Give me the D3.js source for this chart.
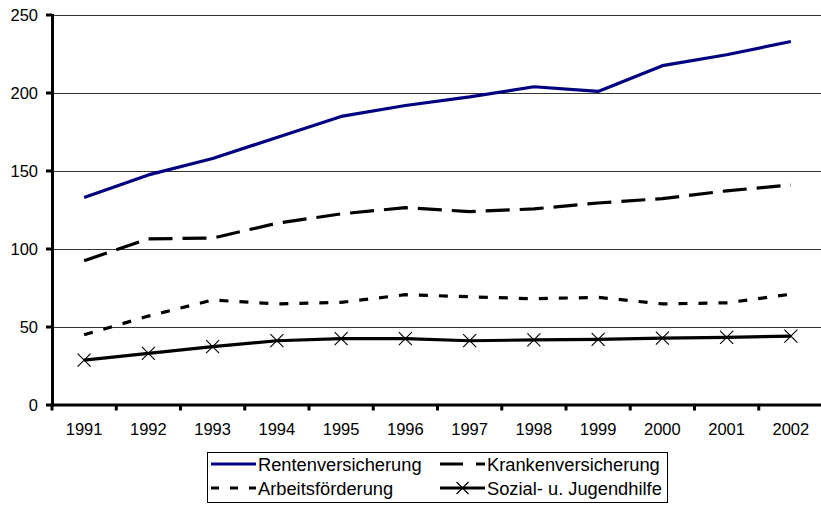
<!DOCTYPE html>
<html>
<head>
<meta charset="utf-8">
<script src="https://cdn.jsdelivr.net/npm/d3@7"></script>
<style>
  html, body { margin: 0; padding: 0; background: #fff; }
  svg { display: block; font-family: "Liberation Sans", Arial, sans-serif; }
</style>
</head>
<body>
<div id="chart"></div>
<script>
const years = ["1991","1992","1993","1994","1995","1996","1997","1998","1999","2000","2001","2002"];
const rentenversicherung = [133, 147.5, 158, 171.5, 185, 192, 197.5, 204, 201, 217.5, 224.5, 233];
const krankenversicherung = [92.5, 106.5, 107, 116.5, 122.5, 126.5, 124, 125.7, 129.5, 132.3, 137.3, 141];
const arbeitsfoerderung = [45, 57, 67.3, 64.8, 65.8, 70.7, 69.4, 68.1, 69, 64.8, 65.5, 71];
const sozialJugendhilfe = [28.8, 33.1, 37.4, 41.2, 42.6, 42.6, 41.2, 41.7, 42.1, 42.9, 43.3, 44.2];
const yTicks = [0, 50, 100, 150, 200, 250];
const seriesNames = ["Rentenversicherung", "Krankenversicherung", "Arbeitsförderung", "Sozial- u. Jugendhilfe"];

const W = 821, H = 507;
const svg = d3.select("#chart").append("svg").attr("width", W).attr("height", H);

const x = d3.scaleBand().domain(years).range([52, 823]).paddingInner(0).paddingOuter(0);
const y = d3.scaleLinear().domain([0, 250]).range([405, 15]);

// gridlines
svg.append("g").selectAll("line").data(yTicks.filter(d => d > 0)).join("line")
  .attr("x1", 52).attr("x2", W)
  .attr("y1", d => Math.round(y(d)) + 0.5).attr("y2", d => Math.round(y(d)) + 0.5)
  .attr("stroke", "#333").attr("stroke-width", 1);

const styles = [
  { data: rentenversicherung, color: "#000080", dash: null, legendDash: null, w: 3.2 },
  { data: krankenversicherung, color: "#000", dash: "24,10", legendDash: "23,13", w: 3.2 },
  { data: arbeitsfoerderung, color: "#000", dash: "9,11", legendDash: "8,11", w: 3.2 },
  { data: sozialJugendhilfe, color: "#000", dash: null, legendDash: null, w: 3.2, marker: true }
];

const line = d3.line().x((d, i) => x(years[i]) + x.bandwidth() / 2).y(d => y(d));

styles.forEach(s => {
  svg.append("path").attr("d", line(s.data))
    .attr("fill", "none").attr("stroke", s.color).attr("stroke-width", s.w)
    .attr("stroke-dasharray", s.dash).attr("stroke-linejoin", "round");
  if (s.marker) {
    svg.append("g").selectAll("path").data(s.data).join("path")
      .attr("transform", (d, i) => `translate(${x(years[i]) + x.bandwidth() / 2},${y(d)})`)
      .attr("d", "M-6.5,-6.5L6.5,6.5M-6.5,6.5L6.5,-6.5")
      .attr("stroke", "#000").attr("stroke-width", 1.1).attr("fill", "none");
  }
});

// y axis
const yAxis = svg.append("g");
yAxis.append("line").attr("x1", 52.5).attr("x2", 52.5).attr("y1", y(250) - 1).attr("y2", y(0) + 1.5)
  .attr("stroke", "#000").attr("stroke-width", 3);
yAxis.selectAll("line.tk").data(yTicks).join("line").attr("class", "tk")
  .attr("x1", 46).attr("x2", 52).attr("y1", d => y(d)).attr("y2", d => y(d))
  .attr("stroke", "#000").attr("stroke-width", 3);
yAxis.selectAll("text").data(yTicks).join("text")
  .attr("x", 38).attr("y", d => y(d)).attr("dy", "0.36em")
  .attr("text-anchor", "end").attr("font-size", 16.5).attr("fill", "#000")
  .text(d => d);

// x axis
const xAxis = svg.append("g");
xAxis.append("line").attr("x1", 51).attr("x2", W).attr("y1", y(0)).attr("y2", y(0))
  .attr("stroke", "#000").attr("stroke-width", 3);
xAxis.selectAll("line.tk").data(years).join("line").attr("class", "tk")
  .attr("x1", d => x(d)).attr("x2", d => x(d)).attr("y1", y(0)).attr("y2", y(0) + 5.5)
  .attr("stroke", "#000").attr("stroke-width", 3);
xAxis.selectAll("text").data(years).join("text")
  .attr("x", d => x(d) + x.bandwidth() / 2).attr("y", 435)
  .attr("text-anchor", "middle").attr("font-size", 16.5).attr("fill", "#000")
  .text(d => d);

// legend
const lg = svg.append("g");
lg.append("rect").attr("x", 207.5).attr("y", 452.5).attr("width", 460).attr("height", 50)
  .attr("fill", "#fff").attr("stroke", "#000").attr("stroke-width", 1);
const legendPos = [
  { sx: 211, tx: 258, ly: 464, ty: 471 },
  { sx: 440, tx: 487, ly: 464, ty: 471 },
  { sx: 211, tx: 258, ly: 488, ty: 495 },
  { sx: 440, tx: 487, ly: 488, ty: 495 }
];
seriesNames.forEach((name, i) => {
  const p = legendPos[i], s = styles[i];
  lg.append("line").attr("x1", p.sx).attr("x2", p.sx + 45).attr("y1", p.ly).attr("y2", p.ly)
    .attr("stroke", s.color).attr("stroke-width", 3).attr("stroke-dasharray", s.legendDash);
  if (s.marker) {
    const cx = p.sx + 22.5;
    lg.append("path").attr("d", `M${cx-6},${p.ly-6}L${cx+6},${p.ly+6}M${cx-6},${p.ly+6}L${cx+6},${p.ly-6}`)
      .attr("stroke", "#000").attr("stroke-width", 1.1);
  }
  lg.append("text").attr("x", p.tx).attr("y", p.ty).attr("font-size", 18.3).attr("fill", "#000").text(name);
});
</script>
</body>
</html>
